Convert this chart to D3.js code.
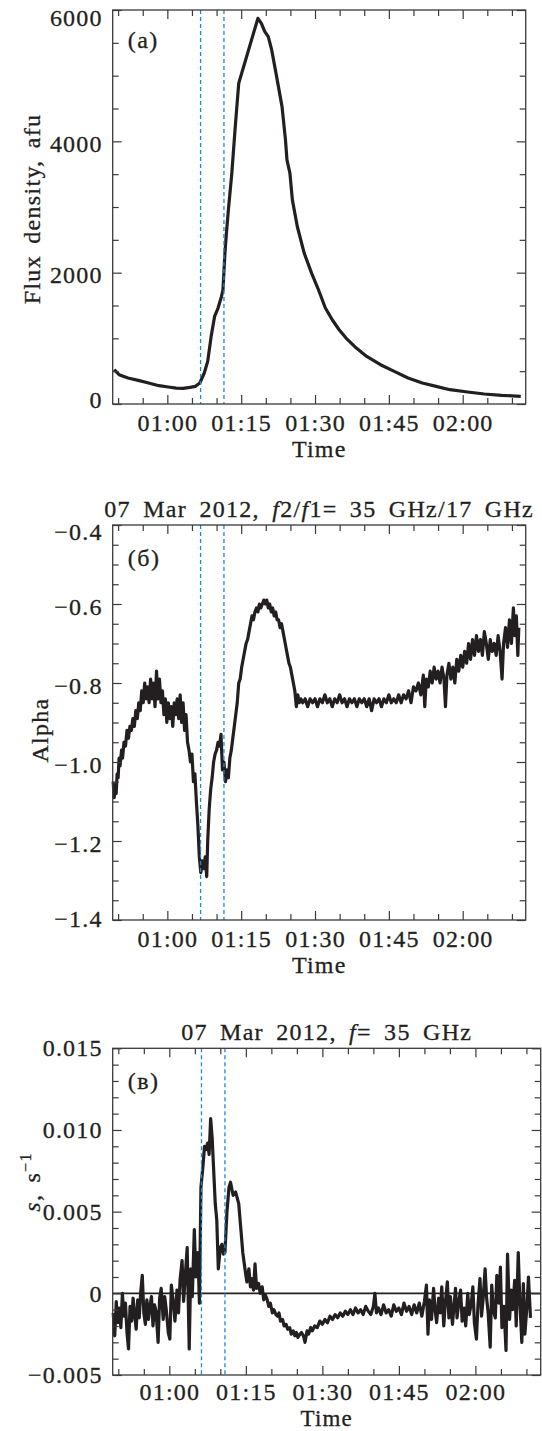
<!DOCTYPE html>
<html>
<head>
<meta charset="utf-8">
<script src="https://cdn.jsdelivr.net/npm/d3@7"></script>
<style>
	body { margin: 0; background: #fff; }
	text { font-family: "Liberation Serif", "Times New Roman", serif; fill: #231f20; stroke: #231f20; stroke-width: 0.3px; }
</style>
</head>
<body>
<div id="graph"></div>
<script>
/*
=====================================================
=========	DATA	=========
=====================================================
*/

// time in minutes after 00:00 UT, 07 Mar 2012
var	timeDomain = [48.9, 132.8],
	timeTicks = [60, 75, 90, 105, 120],
	timeMinor = [50, 55, 65, 70, 80, 85, 95, 100, 110, 115, 125, 130];

// dashed markers (same pixel columns in all panels)
var	markersTop = [66.75, 71.5],
	markersBottom = [66.3, 70.9];

// (a) flux density, afu
var	fluxTicks = [0, 2000, 4000, 6000],
	fluxMinor = [500, 1000, 1500, 2500, 3000, 3500, 4500, 5000, 5500];
var fluxTime = [49.2, 50.2, 52.0, 54.1, 56.2, 58.3, 60.2, 61.8, 63.2, 64.6, 65.7, 66.6, 67.5, 68.2, 68.9, 69.6, 70.3, 71.0, 71.3, 71.7,
	72.0, 72.4, 73.1, 73.8, 74.5, 75.2, 76.2, 77.3, 78.0, 78.4, 79.1, 79.8, 80.5, 81.2, 82.2, 83.3, 84.0, 84.3, 84.9, 85.4,
	86.4, 87.8, 89.3, 90.7, 92.1, 93.5, 94.9, 96.3, 98.4, 100.5, 103.3, 106.1, 108.9, 111.8, 114.6, 117.4, 121.0, 124.4, 127.9, 131.8];
var fluxValue = [522, 446, 396, 360, 320, 279, 259, 243, 238, 254, 269, 320, 472, 649, 1030, 1334, 1461, 1638, 1740, 2298,
	2602, 2957, 3515, 4225, 4884, 5062, 5315, 5594, 5772, 5873, 5797, 5670, 5594, 5392, 4986, 4529, 4022, 3718, 3515, 3109,
	2703, 2298, 1993, 1740, 1461, 1283, 1131, 1004, 852, 725, 598, 497, 396, 320, 269, 218, 183, 152, 132, 117];

// (б) spectral index alpha
var	alphaTicks = [-1.4, -1.2, -1.0, -0.8, -0.6, -0.4],
	alphaMinor = [-1.35, -1.3, -1.25, -1.15, -1.1, -1.05, -0.95, -0.9, -0.85, -0.75, -0.7, -0.65, -0.55, -0.5, -0.45];
var alphaTime = [49.0, 49.2, 49.4, 49.6, 49.8, 50.0, 50.2, 50.4, 50.7, 50.9, 51.2, 51.5, 51.8, 52.1, 52.4, 52.7, 53.0, 53.3, 53.6, 53.9,
	54.2, 54.5, 54.8, 55.1, 55.4, 55.7, 56.0, 56.3, 56.6, 56.9, 57.2, 57.5, 57.8, 58.1, 58.4, 58.7, 59.0, 59.3, 59.6, 59.9,
	60.2, 60.5, 60.8, 61.1, 61.4, 61.7, 62.0, 62.3, 62.6, 62.9, 63.2, 63.5, 63.8, 64.1, 64.4, 64.7, 65.0, 65.3, 65.6, 65.9,
	66.2, 66.5, 66.8, 67.1, 67.4, 67.7, 68.0, 68.2, 68.5, 68.8, 69.1, 69.4, 69.7, 70.0, 70.3, 70.6, 70.9, 71.2, 71.5, 71.8,
	72.1, 72.4, 72.7, 73.0, 73.3, 73.6, 73.9, 74.2, 74.5, 74.8, 75.1, 75.4, 75.7, 76.0, 76.3, 76.6, 76.9, 77.2, 77.5, 77.8,
	78.1, 78.4, 78.7, 79.0, 79.3, 79.6, 79.9, 80.2, 80.5, 80.8, 81.1, 81.4, 81.7, 82.0, 82.3, 82.6, 82.9, 83.2, 83.5, 83.8,
	84.1, 84.4, 84.7, 85.0, 85.3, 85.6, 85.9, 86.2, 86.5, 86.8, 87.1, 87.5, 88.0, 88.5, 89.0, 89.5, 90.0, 90.5, 91.0, 91.5,
	92.0, 92.5, 93.0, 93.5, 94.0, 94.5, 95.0, 95.5, 96.0, 96.5, 97.0, 97.5, 98.0, 98.5, 99.0, 99.5, 100.0, 100.5, 101.0, 101.5,
	102.0, 102.5, 103.0, 103.5, 104.0, 104.5, 105.0, 105.5, 106.0, 106.5, 107.0, 107.5, 108.0, 108.5, 109.0, 109.5, 110.0, 110.5, 111.0, 111.5,
	112.0, 112.3, 112.6, 113.0, 113.4, 113.8, 114.2, 114.6, 115.0, 115.4, 115.8, 116.2, 116.5, 116.8, 117.2, 117.6, 118.0, 118.4, 118.8, 119.2,
	119.6, 120.0, 120.4, 120.8, 121.2, 121.6, 122.0, 122.4, 122.8, 123.2, 123.6, 124.0, 124.4, 124.8, 125.2, 125.6, 126.0, 126.4, 126.8, 127.2,
	127.6, 128.0, 128.3, 128.7, 129.1, 129.5, 129.9, 130.3, 130.6, 130.9, 131.2, 131.4];
var alphaValue = [-1.05, -1.09, -1.06, -1.08, -1.03, -1.04, -0.99, -1.01, -0.97, -0.99, -0.95, -0.96, -0.92, -0.94, -0.91, -0.92, -0.89, -0.91, -0.87, -0.89,
	-0.85, -0.87, -0.82, -0.85, -0.80, -0.84, -0.81, -0.85, -0.79, -0.84, -0.80, -0.86, -0.77, -0.84, -0.79, -0.85, -0.82, -0.88, -0.84, -0.90,
	-0.85, -0.89, -0.86, -0.91, -0.85, -0.88, -0.84, -0.89, -0.83, -0.90, -0.85, -0.92, -0.88, -0.95, -0.97, -1.00, -0.98, -1.05, -1.03, -1.10,
	-1.16, -1.24, -1.28, -1.25, -1.27, -1.24, -1.29, -1.20, -1.12, -1.07, -1.04, -1.00, -0.98, -0.97, -0.95, -0.96, -0.93, -1.02, -1.00, -1.05,
	-1.02, -1.04, -0.99, -0.97, -0.94, -0.91, -0.88, -0.85, -0.80, -0.79, -0.76, -0.74, -0.72, -0.70, -0.69, -0.67, -0.65, -0.63, -0.64, -0.62,
	-0.61, -0.62, -0.60, -0.61, -0.60, -0.59, -0.60, -0.59, -0.61, -0.60, -0.62, -0.61, -0.63, -0.62, -0.64, -0.64, -0.66, -0.65, -0.67, -0.69,
	-0.71, -0.73, -0.75, -0.76, -0.78, -0.80, -0.82, -0.86, -0.83, -0.85, -0.84, -0.85, -0.84, -0.86, -0.84, -0.85, -0.84, -0.86, -0.84, -0.85,
	-0.83, -0.85, -0.84, -0.86, -0.84, -0.85, -0.83, -0.85, -0.84, -0.86, -0.84, -0.85, -0.84, -0.86, -0.84, -0.85, -0.84, -0.86, -0.84, -0.87,
	-0.84, -0.85, -0.84, -0.86, -0.84, -0.85, -0.83, -0.85, -0.84, -0.85, -0.83, -0.85, -0.83, -0.84, -0.82, -0.85, -0.81, -0.82, -0.80, -0.83,
	-0.78, -0.86, -0.79, -0.81, -0.77, -0.80, -0.76, -0.79, -0.77, -0.80, -0.76, -0.79, -0.86, -0.78, -0.75, -0.79, -0.76, -0.80, -0.74, -0.77,
	-0.73, -0.76, -0.72, -0.75, -0.70, -0.74, -0.69, -0.73, -0.68, -0.72, -0.69, -0.73, -0.67, -0.70, -0.74, -0.69, -0.72, -0.70, -0.73, -0.68,
	-0.72, -0.79, -0.70, -0.66, -0.71, -0.64, -0.70, -0.61, -0.68, -0.63, -0.73, -0.66];

// (в) rate s, s^-1
var	rateTicks = [-0.005, 0, 0.005, 0.010, 0.015],
	rateMinor = [-0.004, -0.003, -0.002, -0.001, 0.001, 0.002, 0.003, 0.004, 0.006, 0.007, 0.008, 0.009, 0.011, 0.012, 0.013, 0.014];
var rateTime = [49.0, 49.3, 49.6, 49.9, 50.2, 50.5, 50.8, 51.1, 51.4, 51.7, 52.0, 52.3, 52.6, 52.9, 53.2, 53.5, 53.8, 54.1, 54.4, 54.7,
	55.0, 55.3, 55.6, 55.9, 56.2, 56.5, 56.8, 57.1, 57.4, 57.8, 58.1, 58.4, 58.8, 59.1, 59.4, 59.8, 60.1, 60.4, 60.8, 61.1,
	61.5, 61.8, 62.1, 62.5, 62.8, 63.2, 63.5, 63.9, 64.2, 64.5, 64.9, 65.2, 65.6, 65.9, 66.2, 66.6, 66.9, 67.2, 67.5, 67.8,
	68.1, 68.4, 68.7, 69.0, 69.3, 69.6, 70.0, 70.3, 70.6, 70.9, 71.3, 71.7, 72.0, 72.5, 73.0, 73.6, 74.0, 74.4, 74.7, 75.0,
	75.2, 75.6, 75.9, 76.1, 76.5, 76.8, 77.1, 77.5, 77.8, 78.2, 78.5, 78.8, 79.1, 79.5, 79.8, 80.2, 80.5, 80.9, 81.2, 81.5,
	81.8, 82.2, 82.5, 82.9, 83.2, 83.6, 83.9, 84.3, 84.6, 84.9, 85.2, 85.6, 85.9, 86.3, 86.6, 87.0, 87.3, 87.7, 88.0, 88.5,
	89.0, 89.5, 90.0, 90.5, 91.0, 91.5, 92.0, 92.5, 93.0, 93.5, 94.0, 94.5, 95.0, 95.5, 96.0, 96.5, 97.0, 97.5, 98.0, 98.5,
	99.0, 99.5, 100.0, 100.3, 100.6, 101.0, 101.5, 102.0, 102.5, 103.0, 103.5, 104.0, 104.5, 105.0, 105.5, 106.0, 106.5, 107.0, 107.5, 108.0,
	108.5, 109.0, 109.5, 110.0, 110.4, 110.7, 111.0, 111.4, 111.8, 112.1, 112.4, 112.8, 113.1, 113.4, 113.8, 114.1, 114.5, 114.8, 115.1, 115.5,
	115.8, 116.1, 116.4, 116.8, 117.1, 117.4, 117.8, 118.1, 118.5, 118.8, 119.2, 119.5, 119.8, 120.2, 120.5, 120.9, 121.2, 121.5, 121.9, 122.2,
	122.5, 122.9, 123.2, 123.5, 123.9, 124.2, 124.6, 124.9, 125.2, 125.6, 126.0, 126.3, 126.7, 127.0, 127.3, 127.7, 128.0, 128.4, 128.7, 129.1,
	129.4, 129.7, 130.1, 130.4, 130.8, 131.1, 131.5, 131.8, 132.2, 132.5, 132.8];
var rateValue = [-0.0012, -0.0026, -0.0005, -0.0018, -0.0009, -0.0021, 0.0000, -0.0014, -0.0006, -0.0024, -0.0034, -0.0008, -0.0017, -0.0003, -0.0013, -0.0022, -0.0004, -0.0015, 0.0001, 0.0011,
	-0.0012, -0.0019, -0.0004, -0.0016, -0.0008, -0.0002, -0.0020, -0.0007, -0.0011, -0.0030, -0.0003, 0.0003, -0.0016, -0.0002, -0.0010, -0.0024, -0.0028, 0.0005, -0.0006, -0.0017,
	0.0002, -0.0012, 0.0008, 0.0020, -0.0005, 0.0014, 0.0028, -0.0034, 0.0015, -0.0002, 0.0039, 0.0010, 0.0025, -0.0006, 0.0065, 0.0078, 0.0090, 0.0088, 0.0092, 0.0085,
	0.0107, 0.0095, 0.0075, 0.0055, 0.0045, 0.0015, 0.0028, 0.0030, 0.0024, 0.0025, 0.0050, 0.0065, 0.0068, 0.0060, 0.0062, 0.0055, 0.0040, 0.0025, 0.0018, 0.0011,
	0.0007, 0.0015, 0.0004, 0.0009, 0.0002, 0.0018, 0.0003, 0.0006, 0.0000, 0.0004, -0.0004, -0.0001, -0.0003, -0.0008, -0.0006, -0.0012, -0.0010, -0.0013, -0.0014, -0.0012,
	-0.0017, -0.0016, -0.0020, -0.0019, -0.0022, -0.0021, -0.0025, -0.0023, -0.0026, -0.0024, -0.0027, -0.0025, -0.0024, -0.0026, -0.0030, -0.0023, -0.0025, -0.0021, -0.0023, -0.0020,
	-0.0021, -0.0017, -0.0019, -0.0016, -0.0018, -0.0014, -0.0016, -0.0013, -0.0015, -0.0012, -0.0014, -0.0011, -0.0013, -0.0010, -0.0013, -0.0009, -0.0012, -0.0010, -0.0013, -0.0008,
	-0.0011, -0.0013, -0.0008, 0.0000, -0.0012, -0.0009, -0.0013, -0.0007, -0.0012, -0.0010, -0.0014, -0.0007, -0.0011, -0.0009, -0.0013, -0.0006, -0.0011, -0.0008, -0.0013, -0.0007,
	-0.0012, -0.0006, -0.0014, -0.0005, 0.0005, -0.0025, -0.0004, -0.0016, 0.0003, -0.0010, -0.0018, -0.0003, -0.0012, 0.0004, -0.0020, -0.0006, 0.0007, -0.0015, -0.0002, -0.0019,
	-0.0008, 0.0003, -0.0015, -0.0004, 0.0002, -0.0017, -0.0009, -0.0020, 0.0000, -0.0013, -0.0006, 0.0004, -0.0018, -0.0028, -0.0007, 0.0009, -0.0014, -0.0004, 0.0015, -0.0003,
	-0.0012, -0.0033, 0.0005, -0.0010, -0.0015, 0.0011, -0.0006, 0.0016, -0.0021, -0.0008, -0.0035, 0.0024, -0.0016, 0.0002, -0.0010, 0.0008, -0.0020, 0.0025, -0.0004, -0.0030,
	0.0006, -0.0025, -0.0008, 0.0010, -0.0015];

/*
=====================================================
=========	LAYOUT / SVG	=========
=====================================================
*/

var	SVGwidth = 542,
	SVGheight = 1431,
	fontSize = 24,
	majorLen = 9,
	minorLen = 6,
	markerColor = "#1b8ad3",
	inkColor = "#231f20",
	frameColor = "#3a3a3a";

var svg = d3.select('div#graph')
				.append('svg')
				.attr('width', SVGwidth)
				.attr('height', SVGheight)
				.style('display', 'block');

svg.append("rect").attr("width", SVGwidth).attr("height", SVGheight).attr("fill", "#fff");

function zip(t, v){
	return t.map(function(d, i){ return {t: d, v: v[i]}; });
}

function clock(m){
	var h = Math.floor(m / 60), mm = m % 60;
	return (h < 10 ? "0" : "") + h + ":" + (mm < 10 ? "0" : "") + mm;
}

function styleTicks(sel, labelled){
	sel.select(".domain").remove();
	sel.selectAll(".tick line").attr("stroke", frameColor).attr("stroke-width", 1.2);
	if (labelled){
		sel.selectAll(".tick text")
			.attr("fill", inkColor)
			.style("font-size", fontSize + "px")
			.style("letter-spacing", "1.2px")
			.style("font-family", '"Liberation Serif", "Times New Roman", serif');
	} else {
		sel.selectAll(".tick text").remove();
	}
}

function drawPanel(p){
	var w = p.width, h = p.height;

	var x = d3.scaleLinear().domain(timeDomain).range([0, w]);
	var y = d3.scaleLinear().domain(p.yDomain).range([h, 0]);

	var g = svg.append("g").attr("transform", "translate(" + p.left + "," + p.top + ")");

	// title
	if (p.title){
		var t = svg.append("text")
			.attr("x", p.left + w / 2)
			.attr("y", p.top - 8)
			.attr("text-anchor", "middle")
			.style("font-size", fontSize + "px")
			.style("letter-spacing", "1.3px")
			.style("word-spacing", "5px");
		p.title.forEach(function(part){
			t.append("tspan").style("font-style", part.i ? "italic" : "normal").text(part.s);
		});
	}

	// data line
	var line = d3.line()
		.x(function(d) { return x(d.t); })
		.y(function(d) { return y(d.v); });

	g.append("path")
		.datum(p.data)
		.attr("fill", "none")
		.attr("stroke", inkColor)
		.attr("stroke-width", 3.2)
		.attr("stroke-linejoin", "round")
		.attr("d", line);

	if (p.zeroLine){
		g.append("line")
			.attr("x1", 0).attr("x2", w)
			.attr("y1", y(0)).attr("y2", y(0))
			.attr("stroke", inkColor)
			.attr("stroke-width", 1.8);
	}

	// dashed markers
	g.selectAll("line.marker")
		.data(p.markers)
		.enter()
		.append("line")
		.attr("class", "marker")
		.attr("x1", function(d){ return x(d); })
		.attr("x2", function(d){ return x(d); })
		.attr("y1", 0).attr("y2", h)
		.attr("stroke", markerColor)
		.attr("stroke-width", 1.3)
		.attr("stroke-dasharray", "4,3");

	// axes: ticks on all four sides, pointing inward
	var bottom = g.append("g").attr("transform", "translate(0," + h + ")")
		.call(d3.axisBottom(x).tickValues(timeTicks).tickSize(-majorLen).tickPadding(p.xPad).tickFormat(clock));
	styleTicks(bottom, true);
	styleTicks(g.append("g").attr("transform", "translate(0," + h + ")")
		.call(d3.axisBottom(x).tickValues(timeMinor).tickSize(-minorLen)), false);
	styleTicks(g.append("g").call(d3.axisTop(x).tickValues(timeTicks).tickSize(-majorLen)), false);
	styleTicks(g.append("g").call(d3.axisTop(x).tickValues(timeMinor).tickSize(-minorLen)), false);

	var left = g.append("g")
		.call(d3.axisLeft(y).tickValues(p.yTicks).tickSize(-majorLen).tickPadding(10).tickFormat(p.yFormat));
	styleTicks(left, true);
	// labels sit a little below their ticks; the end ones are pushed inside
	left.selectAll(".tick text").attr("dy", function(d){
		var shift = p.labelShift;
		if (d === p.yDomain[1]) shift += p.edgeShift;
		if (d === p.yDomain[0]) shift -= p.edgeShift;
		return (0.32 + shift / fontSize) + "em";
	});
	styleTicks(g.append("g").call(d3.axisLeft(y).tickValues(p.yMinor).tickSize(-minorLen)), false);
	styleTicks(g.append("g").attr("transform", "translate(" + w + ",0)")
		.call(d3.axisRight(y).tickValues(p.yTicks).tickSize(-majorLen)), false);
	styleTicks(g.append("g").attr("transform", "translate(" + w + ",0)")
		.call(d3.axisRight(y).tickValues(p.yMinor).tickSize(-minorLen)), false);

	// frame
	g.append("rect")
		.attr("width", w).attr("height", h)
		.attr("fill", "none")
		.attr("stroke", frameColor)
		.attr("stroke-width", 1.3);

	// panel letter
	g.append("text")
		.attr("x", 15).attr("y", p.letterY)
		.style("font-size", fontSize + "px")
		.style("letter-spacing", "1.5px")
		.text(p.letter);

	// axis titles
	g.append("text")
		.attr("x", w / 2).attr("y", h + p.timeGap)
		.attr("text-anchor", "middle")
		.style("font-size", p.timeSize + "px")
		.style("letter-spacing", "1.2px")
		.text("Time");

	var yl = svg.append("text")
		.attr("transform", "translate(" + p.yLabelX + "," + p.yLabelY + ") rotate(-90)")
		.attr("text-anchor", "middle")
		.style("font-size", fontSize + "px")
		.style("letter-spacing", "1.3px")
		.style("word-spacing", "4px");
	p.yLabel.forEach(function(part){
		var ts = yl.append("tspan").style("font-style", part.i ? "italic" : "normal").text(part.s);
		if (part.sup){
			ts.attr("dy", "-0.55em").style("font-size", "16px");
		}
	});
}

drawPanel({
	left: 112.7, top: 10, width: 413, height: 394,
	yDomain: [0, 6000], yTicks: fluxTicks, yMinor: fluxMinor,
	yFormat: d3.format("d"), labelShift: 2, edgeShift: 6,
	data: zip(fluxTime, fluxValue), markers: markersTop,
	letter: "(a)", letterY: 37.5, xPad: 10, timeGap: 53, timeSize: 24,
	yLabel: [{s: "Flux density, afu"}], yLabelX: 40, yLabelY: 209
});

drawPanel({
	left: 112.7, top: 525, width: 413, height: 395,
	yDomain: [-1.4, -0.4], yTicks: alphaTicks, yMinor: alphaMinor,
	yFormat: d3.format(".1f"), labelShift: 3, edgeShift: 4,
	data: zip(alphaTime, alphaValue), markers: markersTop,
	title: [{s: "07 Mar 2012, "}, {s: "f", i: true}, {s: "2/"}, {s: "f", i: true}, {s: "1= 35 GHz/17 GHz"}],
	letter: "(б)", letterY: 41, xPad: 10, timeGap: 53, timeSize: 24,
	yLabel: [{s: "Alpha"}], yLabelX: 48, yLabelY: 730
});

drawPanel({
	left: 112.7, top: 1048.3, width: 428, height: 326.7,
	yDomain: [-0.005, 0.015], yTicks: rateTicks, yMinor: rateMinor,
	yFormat: function(d){ return d === 0 ? "0" : d3.format(".3f")(d); }, labelShift: 0, edgeShift: 0,
	data: zip(rateTime, rateValue), markers: markersBottom, zeroLine: true,
	title: [{s: "07 Mar 2012, "}, {s: "f", i: true}, {s: "= 35 GHz"}],
	letter: "(в)", letterY: 41, xPad: 8, timeGap: 51, timeSize: 23,
	yLabel: [{s: "s", i: true}, {s: ", s"}, {s: "−1", sup: true}], yLabelX: 40, yLabelY: 1182
});
</script>
</body>
</html>
